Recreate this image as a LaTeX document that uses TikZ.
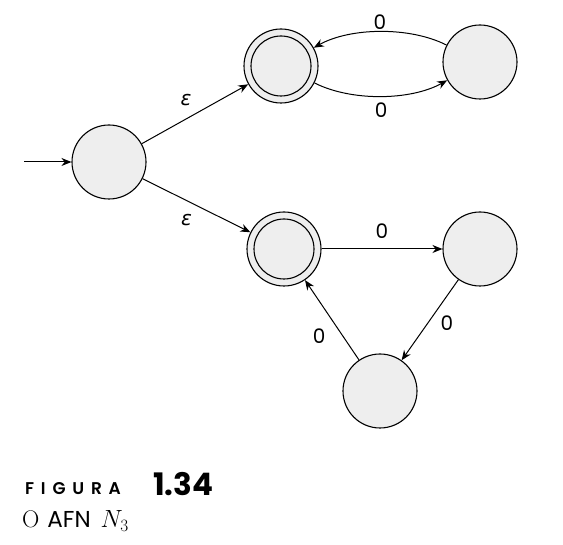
\documentclass[tikz,border=0pt]{standalone}
\usepackage{fontspec}
\newfontfamily\lblfont{Poppins}
\newfontfamily\capfont[LetterSpace=40]{Poppins SemiBold}
\newfontfamily\numfont{Poppins Bold}
\newfontfamily\epsfont{DejaVu Sans}
\usetikzlibrary{arrows.meta,positioning}
\definecolor{statefill}{HTML}{EEEEEE}
\begin{document}
\begin{tikzpicture}[x=1pt,y=-1pt,
  state/.style={circle,draw=black,fill=statefill,line width=1.1pt,minimum size=74pt,inner sep=0pt},
  accept/.style={state,path picture={\draw[line width=1.1pt] (path picture bounding box.center) circle[radius=30pt];}},
  edge/.style={-{Stealth[length=10pt,width=8pt]},line width=1pt},
  lbl/.style={font=\lblfont\fontsize{20}{22}\selectfont,inner sep=2pt},
  eps/.style={font=\epsfont\itshape\fontsize{20}{22}\selectfont,inner sep=0pt}]
\useasboundingbox (0,0) rectangle (563,545);
\node[state] (s) at (109,162) {};
\node[accept] (a1) at (281,66) {};
\node[state] (r1) at (480,62) {};
\node[accept] (a2) at (284,249) {};
\node[state] (r2) at (480,249) {};
\node[state] (b) at (380,391) {};
\coordinate (init) at (24,162);
\draw[edge] (init) -- (s);
\draw[edge] (s) -- node[eps,xshift=-9pt,yshift=14pt] {ε} (a1);
\draw[edge] (s) -- node[eps,xshift=-10pt,yshift=-15pt] {ε} (a2);
\draw[edge] (a1) to[bend right=28,looseness=0.8] node[lbl,below=4pt] {0} (r1);
\draw[edge] (r1) to[bend right=28,looseness=0.8] node[lbl,above=0pt] {0} (a1);
\draw[edge] (a2) -- node[lbl,above=8pt] {0} (r2);
\draw[edge] (r2) -- node[lbl,right=8pt,yshift=-3pt] {0} (b);
\draw[edge] (b) -- node[lbl,below left=6pt and 4pt] {0} (a2);
\node[anchor=base west,inner sep=0pt,font=\capfont\fontsize{17}{18}\selectfont] (fig) at (25,495) {FIGURA};
\node[anchor=base west,inner sep=0pt,font=\numfont\fontsize{31}{31}\selectfont] (num) at (153,496) {1.34};
\node[anchor=base west,inner sep=0pt,font=\fontsize{24}{28}\selectfont] (cap) at (22,528) {O\hspace{8pt}{\lblfont\fontsize{23}{24}\selectfont AFN}\hspace{10pt}$N_3$};
\end{tikzpicture}
\end{document}
